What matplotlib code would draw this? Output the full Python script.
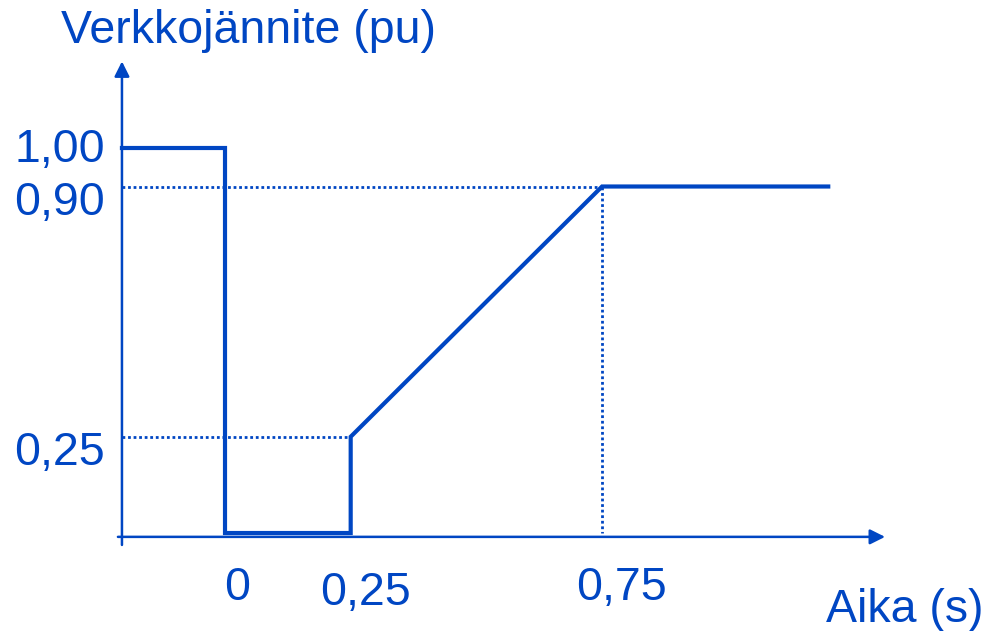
import matplotlib
matplotlib.use("Agg")
import matplotlib.pyplot as plt

# voltage profile (time in s, voltage in pu)
time_pts = [-0.205, 0.0, 0.0, 0.25, 0.25, 0.75, 1.2]
volt_pts = [1.00, 1.00, 0.0, 0.0, 0.25, 0.90, 0.90]

# labelled levels
y_ticks = [1.00, 0.90, 0.25]
y_tick_labels = ["1,00", "0,90", "0,25"]
x_ticks = [0.0, 0.25, 0.75]
x_tick_labels = ["0", "0,25", "0,75"]

blue = "#0046C3"
plt.rcParams["font.family"] = ["Liberation Sans", "DejaVu Sans"]

fig = plt.figure(figsize=(9.87, 6.31), dpi=100)
ax = fig.add_axes([0, 0, 1, 1])
ax.set_xlim(-0.4476, 1.5158)
ax.set_ylim(-0.2545, 1.3844)
ax.axis("off")

y_axis_x = -0.205

# axes with arrow heads
ax.annotate("", xy=(y_axis_x, 1.225), xytext=(y_axis_x, -0.031),
            arrowprops=dict(arrowstyle="-|>,head_length=0.9,head_width=0.45",
                            color=blue, lw=1.8, shrinkA=0, shrinkB=0))
ax.annotate("", xy=(1.313, -0.01), xytext=(-0.213, -0.01),
            arrowprops=dict(arrowstyle="-|>,head_length=0.9,head_width=0.45",
                            color=blue, lw=1.8, shrinkA=0, shrinkB=0))

# dotted guide lines
dots = (0, (1, 1))
ax.plot([y_axis_x, 0.75], [0.90, 0.90], color=blue, lw=2.0, ls=dots)
ax.plot([0.75, 0.75], [0.90, 0.0], color=blue, lw=2.0, ls=dots)
ax.plot([y_axis_x, 0.25], [0.25, 0.25], color=blue, lw=2.0, ls=dots)

# voltage curve
ax.plot(time_pts, volt_pts, color=blue, lw=3.0, solid_joinstyle="miter")

fs = 33.5
# y labels (slightly staggered as in the original)
y_label_base = [0.964, 0.826, 0.177]
for lab, yb in zip(y_tick_labels, y_label_base):
    ax.text(-0.2387, yb, lab, ha="right", va="baseline", fontsize=fs, color=blue)

x_label_pos = [0.0239, 0.2785, 0.7897]
x_label_base = [-0.174, -0.187, -0.174]
for lab, xp, yb in zip(x_tick_labels, x_label_pos, x_label_base):
    ax.text(xp, yb, lab, ha="center", va="baseline", fontsize=fs, color=blue)

ax.text(-0.326, 1.2727, "Verkkojännite (pu)", ha="left", va="baseline",
        fontsize=fs, color=blue)
ax.text(1.195, -0.231, "Aika (s)", ha="left", va="baseline",
        fontsize=fs, color=blue)

fig.savefig("out.png", dpi=100)
